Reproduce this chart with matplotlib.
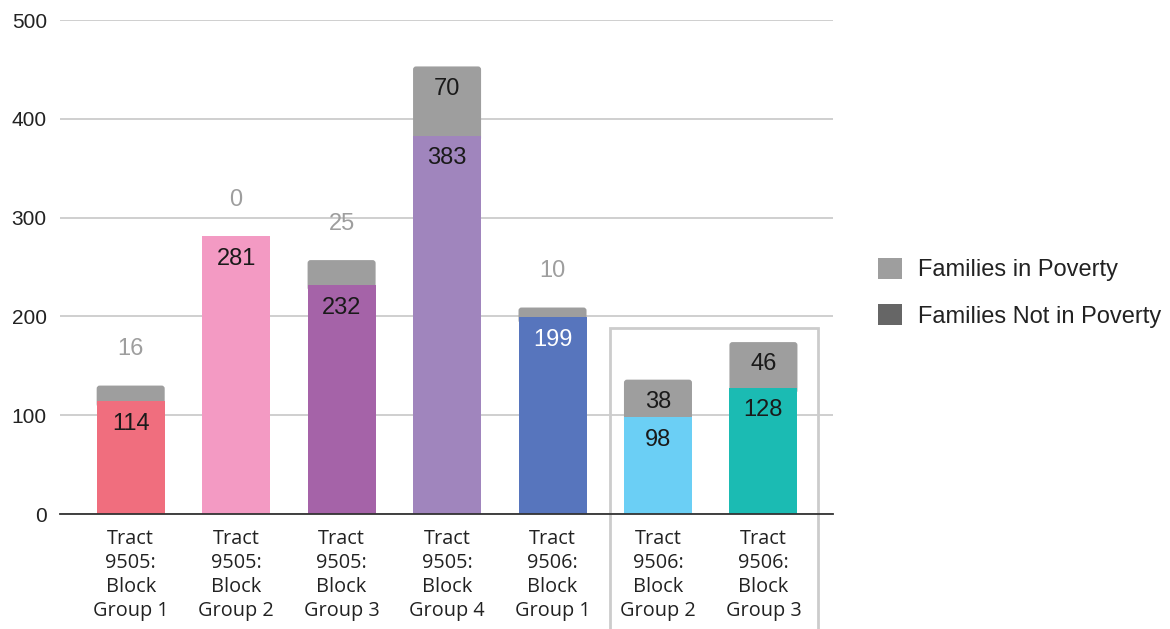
import matplotlib
matplotlib.use("Agg")
import matplotlib.pyplot as plt
from matplotlib.patches import Patch, Rectangle, FancyBboxPatch

categories = ["Tract\n9505:\nBlock\nGroup 1", "Tract\n9505:\nBlock\nGroup 2", "Tract\n9505:\nBlock\nGroup 3",
              "Tract\n9505:\nBlock\nGroup 4", "Tract\n9506:\nBlock\nGroup 1", "Tract\n9506:\nBlock\nGroup 2",
              "Tract\n9506:\nBlock\nGroup 3"]
not_in_poverty = [114, 281, 232, 383, 199, 98, 128]
in_poverty = [16, 0, 25, 70, 10, 38, 46]
bar_colors = ["#f06e7e", "#f39ac3", "#a563a8", "#a085bd", "#5775bd", "#6bcff5", "#1bbbb3"]
inner_text_colors = ["#1a1a1a", "#1a1a1a", "#1a1a1a", "#1a1a1a", "#ffffff", "#1a1a1a", "#1a1a1a"]
yticks = [0, 100, 200, 300, 400, 500]

GREY = "#9e9e9e"
DARK = "#666666"

fig = plt.figure(figsize=(11.7, 6.29), dpi=100)
ax = fig.add_axes([0.0513, 0.1828, 0.6607, 0.7854])

ax.set_xlim(-0.67, 6.66)
ax.set_ylim(0, 500)

x = list(range(len(categories)))
w = 0.645

# grey top segments, drawn with rounded top corners
grey_bars = ax.bar(x, in_poverty, width=w, bottom=not_in_poverty, color=GREY, zorder=2)
fig.canvas.draw()
bb = ax.get_window_extent()
px_per_x = bb.width / (ax.get_xlim()[1] - ax.get_xlim()[0])
px_per_y = bb.height / (ax.get_ylim()[1] - ax.get_ylim()[0])
aspect = px_per_x / px_per_y
for r in grey_bars:
    if r.get_height() <= 0:
        r.set_visible(False)
        continue
    x0, y0 = r.get_xy()
    fb = FancyBboxPatch((x0, y0 - 6), r.get_width(), r.get_height() + 6,
                        boxstyle="round,pad=0,rounding_size=%f" % (3.0 / px_per_x),
                        mutation_aspect=aspect, facecolor=GREY, edgecolor="none", zorder=2)
    ax.add_patch(fb)
    r.set_visible(False)

ax.bar(x, not_in_poverty, width=w, color=bar_colors, zorder=2.5)

for i in x:
    b = not_in_poverty[i]
    p = in_poverty[i]
    ax.text(i, b - 23, str(b), ha="center", va="center", fontsize=17,
            color=inner_text_colors[i], family="Liberation Sans", zorder=3)
    if p >= 30:
        ax.text(i, b + p - 22.5, str(p), ha="center", va="center", fontsize=17,
                color="#1a1a1a", family="Liberation Sans", zorder=3)
    else:
        ax.text(i, b + p + 37, str(p), ha="center", va="center", fontsize=17,
                color="#9e9e9e", family="Liberation Sans", zorder=3)

ax.set_yticks(yticks)
ax.set_yticklabels([str(t) for t in yticks], family="Liberation Sans", fontsize=15, color="#222222")
ax.set_xticks(x)
ax.set_xticklabels(categories, family="Open Sans", fontsize=14.3, color="#222222", linespacing=1.25)
ax.tick_params(axis="both", length=0)
ax.tick_params(axis="x", pad=11)
ax.tick_params(axis="y", pad=9.5)
ax.grid(axis="y", color="#cccccc", linewidth=1.3, zorder=0)
for s in ["top", "right", "left"]:
    ax.spines[s].set_visible(False)
ax.spines["bottom"].set_color("#333333")
ax.spines["bottom"].set_linewidth(1.3)
ax.spines["bottom"].set_zorder(4)

rect = Rectangle((4.548, -140), 6.513 - 4.548, 188.3 + 140, fill=False,
                 edgecolor="#cccccc", linewidth=2, clip_on=False, zorder=1)
ax.add_patch(rect)

handles = [Patch(facecolor=GREY, edgecolor="none", label="Families in Poverty"),
           Patch(facecolor=DARK, edgecolor="none", label="Families Not in Poverty")]
leg = ax.legend(handles=handles, loc="center left", bbox_to_anchor=(1.031, 0.448),
                frameon=False, prop={"family": "Liberation Sans", "size": 17},
                handlelength=1.0, handleheight=1.0, labelspacing=0.95, handletextpad=0.7)
for t in leg.get_texts():
    t.set_color("#222222")

fig.savefig("out.png", dpi=100)
